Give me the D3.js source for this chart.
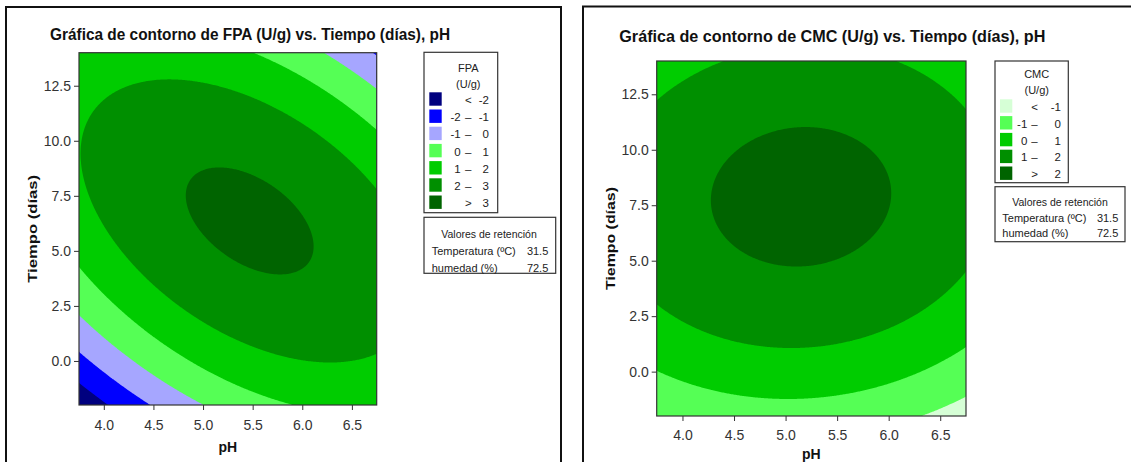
<!DOCTYPE html>
<html>
<head>
<meta charset="utf-8">
<script src="https://cdn.jsdelivr.net/npm/d3@7"></script>
<style>
  html, body { margin: 0; padding: 0; background: #fff; }
  svg { display: block; }
  text { font-family: "Liberation Sans", Arial, sans-serif; }
</style>
</head>
<body>
<svg id="chart" width="1131" height="462"></svg>
<script>
// Factor ranges and tick values shared by both panels
const pHDomain = [3.75, 6.75];
const tiempoDomain = [-2, 14];
const pHTicks = [4.0, 4.5, 5.0, 5.5, 6.0, 6.5];
const tiempoTicks = [0.0, 2.5, 5.0, 7.5, 10.0, 12.5];

// Fitted response surfaces (temperature and humidity held):
// y = b0 + b1*pH + b2*t + b11*pH^2 + b22*t^2 + b12*pH*t
const fpaCoef = [-18.4004, 6.5129, 1.1806, -0.51917, -0.036483, -0.1310];
const cmcCoef = [-8.41714, 3.56734, 0.38104, -0.35389, -0.0274, 0.009864];

// Contour breaks and band colours, lowest band first
const fpaLevels = [-2, -1, 0, 1, 2, 3];
const fpaColors = ["#00007f", "#0000ff", "#a6a6ff", "#55ff55", "#00cc00", "#008f00", "#006400"];
const cmcLevels = [-1, 0, 1, 2];
const cmcColors = ["#d6ffd6", "#55ff55", "#00cc00", "#008f00", "#006400"];

// Hold values for the factors not shown
const holdLabels = ["Temperatura (ºC)", "humedad (%)"];
const holdValues = ["31.5", "72.5"];

const svg = d3.select("#chart");

function surface(c, pH, t) {
  return c[0] + c[1] * pH + c[2] * t + c[3] * pH * pH + c[4] * t * t + c[5] * pH * t;
}

const panels = [
  {
    id: "fpa", coef: fpaCoef, levels: fpaLevels, colors: fpaColors,
    title: "Gráfica de contorno de FPA (U/g) vs. Tiempo (días), pH",
    legendTitle: ["FPA", "(U/g)"],
    frame: { x: 6, y: 7, w: 555 },
    titlePos: { x: 50, y: 40, len: 400 },
    plot: { l: 79, r: 376.7, t: 52.7, b: 405 },
    xPad: 10, yLabel: { x: 32, len: 108 }, xLabelY: 451.5,
    legend: { x: 424, y: 52.3, w: 73.7, h: 160.4, swX: 429.3, swW: 12.4, swH: 13.4,
              firstY: 92.3, step: 17.2, col1: 460.7, dashX: 468.3, col2: 489,
              titleX: 468.3, titleY: [72, 88] },
    hold: { x: 424, y: 217.3, w: 131.7, h: 56, left: 431.7, right: 548.3, cx: 489,
            rows: [237.5, 254.5, 271.5] }
  },
  {
    id: "cmc", coef: cmcCoef, levels: cmcLevels, colors: cmcColors,
    title: "Gráfica de contorno de CMC (U/g) vs. Tiempo (días), pH",
    legendTitle: ["CMC", "(U/g)"],
    frame: { x: 583, y: 6.5, w: 600 },
    titlePos: { x: 619.3, y: 41.7, len: 426 },
    plot: { l: 656.7, r: 966, t: 61, b: 416 },
    xPad: 9, yLabel: { x: 610, len: 103 }, xLabelY: 459,
    legend: { x: 995, y: 61, w: 73.3, h: 121.7, swX: 1000, swW: 12.3, swH: 13.4,
              firstY: 99.3, step: 16.8, col1: 1027.3, dashX: 1034.5, col2: 1061,
              titleX: 1036.7, titleY: [78, 94] },
    hold: { x: 995, y: 186.7, w: 130, h: 55, left: 1002.3, right: 1118.3, cx: 1060,
            rows: [205.5, 222, 237] }
  }
];

panels.forEach(drawPanel);

function drawPanel(cfg) {
  const g = svg.append("g").attr("class", "panel-" + cfg.id);

  // Outer frame of the panel
  g.append("rect")
    .attr("x", cfg.frame.x).attr("y", cfg.frame.y)
    .attr("width", cfg.frame.w).attr("height", 500)
    .attr("fill", "none").attr("stroke", "#111").attr("stroke-width", 2);

  // Title
  g.append("text")
    .attr("x", cfg.titlePos.x).attr("y", cfg.titlePos.y)
    .attr("textLength", cfg.titlePos.len).attr("lengthAdjust", "spacingAndGlyphs")
    .attr("font-size", 16).attr("font-weight", "bold").attr("fill", "#111")
    .text(cfg.title);

  const p = cfg.plot;
  const x = d3.scaleLinear().domain(pHDomain).range([p.l, p.r]);
  const y = d3.scaleLinear().domain(tiempoDomain).range([p.b, p.t]);

  // Evaluate the surface on a grid (cell centres) and trace filled contours
  const nx = 300, ny = 320;
  const sx = (pHDomain[1] - pHDomain[0]) / nx;
  const sy = (tiempoDomain[1] - tiempoDomain[0]) / ny;
  const values = new Float64Array(nx * ny);
  for (let j = 0; j < ny; j++) {
    const t = tiempoDomain[1] - (j + 0.5) * sy;
    for (let i = 0; i < nx; i++) {
      const ph = pHDomain[0] + (i + 0.5) * sx;
      values[j * nx + i] = surface(cfg.coef, ph, t);
    }
  }
  const bands = d3.contours().size([nx, ny]).thresholds(cfg.levels)(values);
  const toPlot = d3.geoTransform({
    point(gx, gy) {
      this.stream.point(x(pHDomain[0] + gx * sx), y(tiempoDomain[1] - gy * sy));
    }
  });
  const path = d3.geoPath(toPlot);

  const clipId = "clip-" + cfg.id;
  g.append("clipPath").attr("id", clipId)
    .append("rect").attr("x", p.l).attr("y", p.t)
    .attr("width", p.r - p.l).attr("height", p.b - p.t);

  const area = g.append("g").attr("clip-path", `url(#${clipId})`);
  area.append("rect")
    .attr("x", p.l).attr("y", p.t).attr("width", p.r - p.l).attr("height", p.b - p.t)
    .attr("fill", cfg.colors[0]);
  area.selectAll("path.band").data(bands).join("path")
    .attr("class", "band")
    .attr("d", path)
    .attr("fill", (d, i) => cfg.colors[i + 1]);

  // Plot border
  g.append("rect")
    .attr("x", p.l).attr("y", p.t).attr("width", p.r - p.l).attr("height", p.b - p.t)
    .attr("fill", "none").attr("stroke", "#333").attr("stroke-width", 1.2);

  // Axes
  const fmt = d3.format(".1f");
  const xAxis = g.append("g").attr("transform", `translate(0,${p.b})`)
    .call(d3.axisBottom(x).tickValues(pHTicks).tickFormat(fmt).tickSize(5).tickSizeOuter(0).tickPadding(cfg.xPad));
  const yAxis = g.append("g").attr("transform", `translate(${p.l},0)`)
    .call(d3.axisLeft(y).tickValues(tiempoTicks).tickFormat(fmt).tickSize(5).tickSizeOuter(0).tickPadding(3));
  [xAxis, yAxis].forEach(ax => {
    ax.select(".domain").remove();
    ax.selectAll(".tick line").attr("stroke", "#333");
    ax.selectAll(".tick text").attr("font-size", 14).attr("fill", "#333")
      .attr("font-family", "\"Liberation Sans\", Arial, sans-serif");
  });

  // Axis titles
  g.append("text")
    .attr("x", (p.l + p.r) / 2).attr("y", cfg.xLabelY)
    .attr("text-anchor", "middle").attr("font-size", 14).attr("font-weight", "bold").attr("fill", "#111")
    .text("pH");
  const cy = (p.t + p.b) / 2;
  g.append("text")
    .attr("transform", `translate(${cfg.yLabel.x + 4.5},${cy}) rotate(-90)`)
    .attr("x", -cfg.yLabel.len / 2).attr("y", 0)
    .attr("textLength", cfg.yLabel.len).attr("lengthAdjust", "spacingAndGlyphs")
    .attr("font-size", 13).attr("font-weight", "bold").attr("fill", "#111")
    .text("Tiempo (días)");

  // Colour legend
  const L = cfg.legend;
  const lg = g.append("g").attr("class", "legend");
  lg.append("rect").attr("x", L.x).attr("y", L.y).attr("width", L.w).attr("height", L.h)
    .attr("fill", "#fff").attr("stroke", "#333").attr("stroke-width", 1.2);
  cfg.legendTitle.forEach((s, k) => {
    lg.append("text").attr("x", L.titleX).attr("y", L.titleY[k])
      .attr("text-anchor", "middle").attr("font-size", 11).attr("fill", "#222").text(s);
  });
  const rows = cfg.colors.map((c, i) => ({
    color: c,
    lo: i === 0 ? null : cfg.levels[i - 1],
    hi: i === cfg.levels.length ? null : cfg.levels[i]
  }));
  rows.forEach((r, i) => {
    const top = L.firstY + i * L.step;
    const base = top + L.swH / 2 + 5;
    lg.append("rect").attr("x", L.swX).attr("y", top).attr("width", L.swW).attr("height", L.swH)
      .attr("fill", r.color);
    const txt = (xx, anchor, s) => lg.append("text").attr("x", xx).attr("y", base)
      .attr("text-anchor", anchor).attr("font-size", 11.5).attr("fill", "#222").text(s);
    if (r.lo === null) {
      txt(L.dashX, "middle", "<");
      txt(L.col2, "end", String(r.hi));
    } else if (r.hi === null) {
      txt(L.dashX, "middle", ">");
      txt(L.col2, "end", String(r.lo));
    } else {
      txt(L.col1, "end", String(r.lo));
      txt(L.dashX, "middle", "–");
      txt(L.col2, "end", String(r.hi));
    }
  });

  // Hold values box
  const H = cfg.hold;
  const hg = g.append("g").attr("class", "hold");
  hg.append("rect").attr("x", H.x).attr("y", H.y).attr("width", H.w).attr("height", H.h)
    .attr("fill", "#fff").attr("stroke", "#333").attr("stroke-width", 1.2);
  hg.append("text").attr("x", H.cx).attr("y", H.rows[0]).attr("text-anchor", "middle")
    .attr("font-size", 10.5).attr("fill", "#222").text("Valores de retención");
  holdLabels.forEach((lab, k) => {
    hg.append("text").attr("x", H.left).attr("y", H.rows[k + 1])
      .attr("font-size", 11).attr("fill", "#222").text(lab);
    hg.append("text").attr("x", H.right).attr("y", H.rows[k + 1]).attr("text-anchor", "end")
      .attr("font-size", 11).attr("fill", "#222").text(holdValues[k]);
  });
}
</script>
</body>
</html>
